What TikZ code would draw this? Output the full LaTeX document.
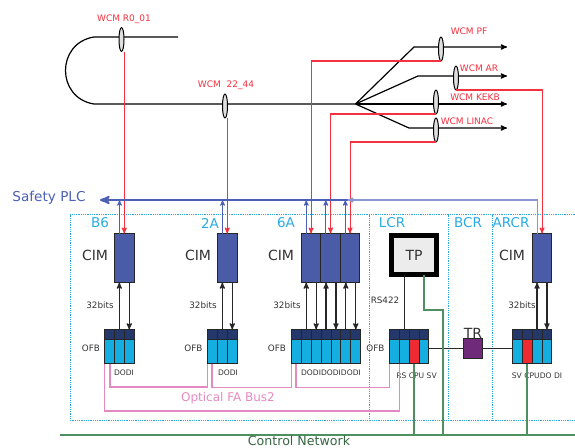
\documentclass[tikz,border=0pt]{standalone}
\usepackage{fontspec}
\setmainfont{DejaVu Sans}
\usepackage{xcolor}
\usetikzlibrary{positioning, arrows, shapes.geometric}

\definecolor{cimblue}{HTML}{4A5CA8}
\definecolor{busblue}{HTML}{4A5FB5}
\definecolor{thinblue}{HTML}{8896D2}
\definecolor{cellblue}{HTML}{14AEE0}
\definecolor{celltop}{HTML}{24386B}
\definecolor{cellred}{HTML}{EE2B30}
\definecolor{roomcyan}{HTML}{29ABE2}
\definecolor{wcmred}{HTML}{F5303F}
\definecolor{trpurple}{HTML}{6F2A7A}
\definecolor{buspink}{HTML}{E58AC0}
\definecolor{netgreen}{HTML}{4F9060}

\tikzset{
    wcm/.style={ellipse,draw=black,fill=gray!25,line width=1pt,minimum width=5pt,minimum height=24pt,inner sep=0pt,outer sep=0pt},
    wcmtext/.style={text=wcmred,font=\fontsize{9}{10}\selectfont,inner sep=0pt},
    roomtext/.style={text=roomcyan,font=\fontsize{13.5}{15}\selectfont,inner sep=0pt},
    cimtext/.style={text=black!80,font=\fontsize{14}{16}\selectfont,inner sep=0pt},
    smalltext/.style={text=black!80,font=\fontsize{8.8}{10}\selectfont,inner sep=0pt},
    tinytext/.style={text=black!80,font=\fontsize{7.6}{9}\selectfont,inner sep=0pt},
    cim/.style={draw=black!85,fill=cimblue,line width=1pt,minimum width=19.5pt,minimum height=49pt,inner sep=0pt,outer sep=0pt},
    cell/.style={draw=black!85,fill=#1,line width=1pt,minimum width=9.9pt,minimum height=34pt,inner sep=0pt,outer sep=0pt,
        path picture={\fill[celltop] (path picture bounding box.north west) rectangle ([yshift=-10pt]path picture bounding box.north east);
            \draw[black!85,line width=1pt] ([yshift=7pt]path picture bounding box.west) -- ([yshift=7pt]path picture bounding box.east);}},
    cell/.default=cellblue,
    cable/.style={black,line width=1.2pt},
    signal/.style={wcmred,line width=1.1pt,->},
    plc/.style={thinblue,line width=1.1pt},
    plcup/.style={busblue,line width=1pt,->},
    data/.style={black!85,line width=1.2pt,->},
    optical/.style={buspink,line width=1.4pt},
    net/.style={netgreen,line width=1.4pt},
    room/.style={roomcyan,densely dotted,line width=0.8pt}
}

\begin{document}
\begin{tikzpicture}[x=1pt,y=-1pt,>=stealth',node distance=0pt]
    \useasboundingbox (0,0) rectangle (575,447);

    % rooms
    \draw[room] (70,214.5) rectangle (577,420);
    \draw[room] (369.7,214.5) -- (369.7,420);
    \draw[room] (448,214.5) -- (448,420);
    \draw[room] (492.3,214.5) -- (492.3,420);
    \node[roomtext] (rb6) at (100,223) {B6};
    \node[roomtext] (r2a) at (210,223) {2A};
    \node[roomtext] (r6a) at (286,223) {6A};
    \node[roomtext] (rlcr) at (392,223) {LCR};
    \node[roomtext] (rbcr) at (468,223) {BCR};
    \node[roomtext] (rarcr) at (511,223) {ARCR};

    % beam lines
    \coordinate (top0) at (178,37);
    \coordinate (top1) at (94,37);
    \coordinate (low1) at (94,104);
    \coordinate (fan) at (355.5,104);
    \coordinate (kpf) at (414,47);
    \coordinate (kar) at (418,76);
    \coordinate (kli) at (409,128);
    \coordinate (epf) at (507,47);
    \coordinate (ear) at (507,76);
    \coordinate (eke) at (507,104);
    \coordinate (eli) at (507,128);
    \draw[cable] (top0) -- (top1) .. controls (56,43) and (56,98) .. (low1) -- (fan);
    \draw[cable,->] (fan) -- (kpf) -- (epf);
    \draw[cable,->] (fan) -- (kar) -- (ear);
    \draw[cable,->] (fan) -- (eke);
    \draw[cable,->] (fan) -- (kli) -- (eli);

    % monitors
    \node[wcm] (wr0) at (121.5,39.5) {};
    \node[wcm] (w22) at (225,106) {};
    \node[wcm] (wpf) at (441,49) {};
    \node[wcm] (war) at (456,78) {};
    \node[wcm] (wke) at (436,102) {};
    \node[wcm] (wli) at (436,130) {};
    \node[wcmtext] (lr0) at (124,19) {WCM R0\_01};
    \node[wcmtext] (l22) at (226,85) {WCM\ \ 22\_44};
    \node[wcmtext] (lpf) at (469,31) {WCM PF};
    \node[wcmtext] (lar) at (479,68) {WCM AR};
    \node[wcmtext] (lke) at (475,97) {WCM KEKB};
    \node[wcmtext] (lli) at (467,121) {WCM LINAC};

    % CIM
    \node[cim,anchor=north west] (cimb) at (114.5,233.5) {};
    \node[cim,anchor=north west] (cima) at (217.5,233.5) {};
    \node[cim,anchor=north west] (cimc) at (301.3,233.5) {};
    \node[cim,right=of cimc] (cimd) {};
    \node[cim,right=of cimd] (cime) {};
    \node[cim,anchor=north west] (cimr) at (532.3,233.5) {};
    \node[cimtext] (tb) at (95,255) {CIM};
    \node[cimtext] (ta) at (198,255) {CIM};
    \node[cimtext] (tc) at (281,255) {CIM};
    \node[cimtext] (tr) at (512,255) {CIM};

    % OFB
    \node[cell,anchor=north west] (b1) at (104.5,329.5) {};
    \node[cell,right=of b1] (b2) {};
    \node[cell,right=of b2] (b3) {};
    \node[cell,anchor=north west] (a1) at (207.5,329.5) {};
    \node[cell,right=of a1] (a2) {};
    \node[cell,right=of a2] (a3) {};
    \node[cell,anchor=north west] (c1) at (291.4,329.5) {};
    \node[cell,right=of c1] (c2) {};
    \node[cell,right=of c2] (c3) {};
    \node[cell,right=of c3] (c4) {};
    \node[cell,right=of c4] (c5) {};
    \node[cell,right=of c5] (c6) {};
    \node[cell,right=of c6] (c7) {};
    \node[cell,anchor=north west] (l1) at (389.3,329.5) {};
    \node[cell,right=of l1] (l2) {};
    \node[cell=cellred,right=of l2] (l3) {};
    \node[cell,right=of l3] (l4) {};
    \node[cell,anchor=north west] (r1) at (512.3,329.5) {};
    \node[cell=cellred,right=of r1] (r2) {};
    \node[cell,right=of r2] (r3) {};
    \node[cell,right=of r3] (r4) {};
    \node[smalltext] (ob) at (91,348) {OFB};
    \node[smalltext] (oa) at (193.5,348) {OFB};
    \node[smalltext] (oc) at (277,348) {OFB};
    \node[smalltext] (ol) at (375.5,348) {OFB};
    \node[tinytext] (db) at (124,373) {DODI};
    \node[tinytext] (da) at (228,373) {DODI};
    \node[tinytext] (dc) at (331,373) {DODIDODIDODI};
    \node[tinytext] (dl) at (416.5,376) {RS CPU SV};
    \node[tinytext] (dr) at (537,376) {SV CPUDO DI};
    \node[smalltext] (bb) at (100,305) {32bits};
    \node[smalltext] (ba) at (203,305) {32bits};
    \node[smalltext] (bc) at (287,305) {32bits};
    \node[smalltext] (br) at (522,305) {32bits};
    \node[smalltext] (rs) at (385,300) {RS422};

    % TP and TR
    \node[draw=black,fill=gray!15,line width=5pt,minimum width=45pt,minimum height=39pt,inner sep=0pt,outer sep=0pt,text=black!80,font=\fontsize{14}{16}\selectfont] (tp) at (414,255) {TP};
    \node[draw=black!85,fill=trpurple,line width=1pt,minimum width=19.5pt,minimum height=19.5pt,inner sep=0pt,outer sep=0pt] (trb) at (473,348.5) {};
    \node[cimtext,above=0.5pt of trb] (trt) {TR};
    \draw[black!85,line width=1pt] (l4.east |- trb) -- (trb) -- (r1.west |- trb);
    \draw[black!85,line width=1.2pt] (l2.north |- tp.south) -- (l2.north);

    % red signals
    \draw[signal] (cimb.north |- wr0.south) -- (cimb.north);
    \draw[signal] (cima.north |- w22.south) -- (cima.north);
    \draw[signal] (wpf.south) -- (cimc.north |- wpf.south) -- (cimc.north);
    \draw[signal] (wke.south) -- (cimd.north |- wke.south) -- (cimd.north);
    \draw[signal] (wli.south) -- (cime.north |- wli.south) -- (cime.north);
    \draw[signal] (war.south) -- (cimr.north |- war.south) -- (cimr.north);

    % safety bus
    \node[text=busblue,font=\fontsize{13.6}{15}\selectfont,inner sep=0pt] (plc) at (49,198) {Safety PLC};
    \coordinate (busl) at (100,200);
    \coordinate (busr) at (347.5,200);
    \draw[busblue,line width=2.2pt,->] (busr) -- (busl);
    \draw[plc,->] ([xshift=5pt]cimr.north west) -- ([xshift=5pt]cimr.north west |- busr) -- (busr);
    \draw[plcup] ([xshift=5pt]cimb.north west) -- ([xshift=5pt]cimb.north west |- busl);
    \draw[plcup] ([xshift=5pt]cima.north west) -- ([xshift=5pt]cima.north west |- busl);
    \draw[plcup] ([xshift=5pt]cimc.north west) -- ([xshift=5pt]cimc.north west |- busl);
    \draw[plcup] ([xshift=5pt]cimd.north west) -- ([xshift=5pt]cimd.north west |- busl);
    \draw[plcup] ([xshift=5pt]cime.north west) -- ([xshift=5pt]cime.north west |- busl);

    % 32 bit links
    \draw[data] (b2.north) -- (b2.north |- cimb.south);
    \draw[data] (b3.north |- cimb.south) -- (b3.north);
    \draw[data] (a2.north) -- (a2.north |- cima.south);
    \draw[data] (a3.north |- cima.south) -- (a3.north);
    \draw[data] (c2.north) -- (c2.north |- cimc.south);
    \draw[data] (c3.north |- cimc.south) -- (c3.north);
    \draw[data] (c4.north) -- (c4.north |- cimd.south);
    \draw[data] (c5.north |- cimd.south) -- (c5.north);
    \draw[data] (c6.north) -- (c6.north |- cime.south);
    \draw[data] (c7.north |- cime.south) -- (c7.north);
    \draw[data] (r3.north) -- (r3.north |- cimr.south);
    \draw[data] (r4.north |- cimr.south) -- (r4.north);

    % optical bus
    \coordinate (oinner) at (0,387);
    \coordinate (oouter) at (0,411);
    \draw[optical] ([xshift=-4.5pt]b2.south west) -- ([xshift=-4.5pt]b2.south west |- oinner) -- (a1.south west |- oinner) -- (a1.south west);
    \draw[optical] (a1.south east) ++(-5.4,0) -- ++(0,24) -| (c1.south west);
    \draw[optical] (c1.south east) ++(-5.4,0) -- ++(0,24) -| (l1.south west);
    \draw[optical] (b1.south west) -- (b1.south west |- oouter) -- (l1.south east |- oouter) -- (l1.south east);
    \node[text=buspink,font=\fontsize{12}{14}\selectfont,inner sep=0pt] (fa) at (228,398) {Optical FA Bus2};

    % control network
    \coordinate (netl) at (60,435);
    \coordinate (netr) at (575,435);
    \draw[net] (netl) -- (netr);
    \draw[net] (l3.south) -- (l3.south |- netl);
    \draw[net] (r2.south) -- (r2.south |- netl);
    \draw[net] ([xshift=10pt]tp.south) |- (443,310) -- (443,435);
    \node[text=netgreen!70!black,font=\fontsize{12.6}{14}\selectfont,inner sep=0pt,anchor=base] (cn) at (299,445.5) {Control Network};
\end{tikzpicture}
\end{document}
